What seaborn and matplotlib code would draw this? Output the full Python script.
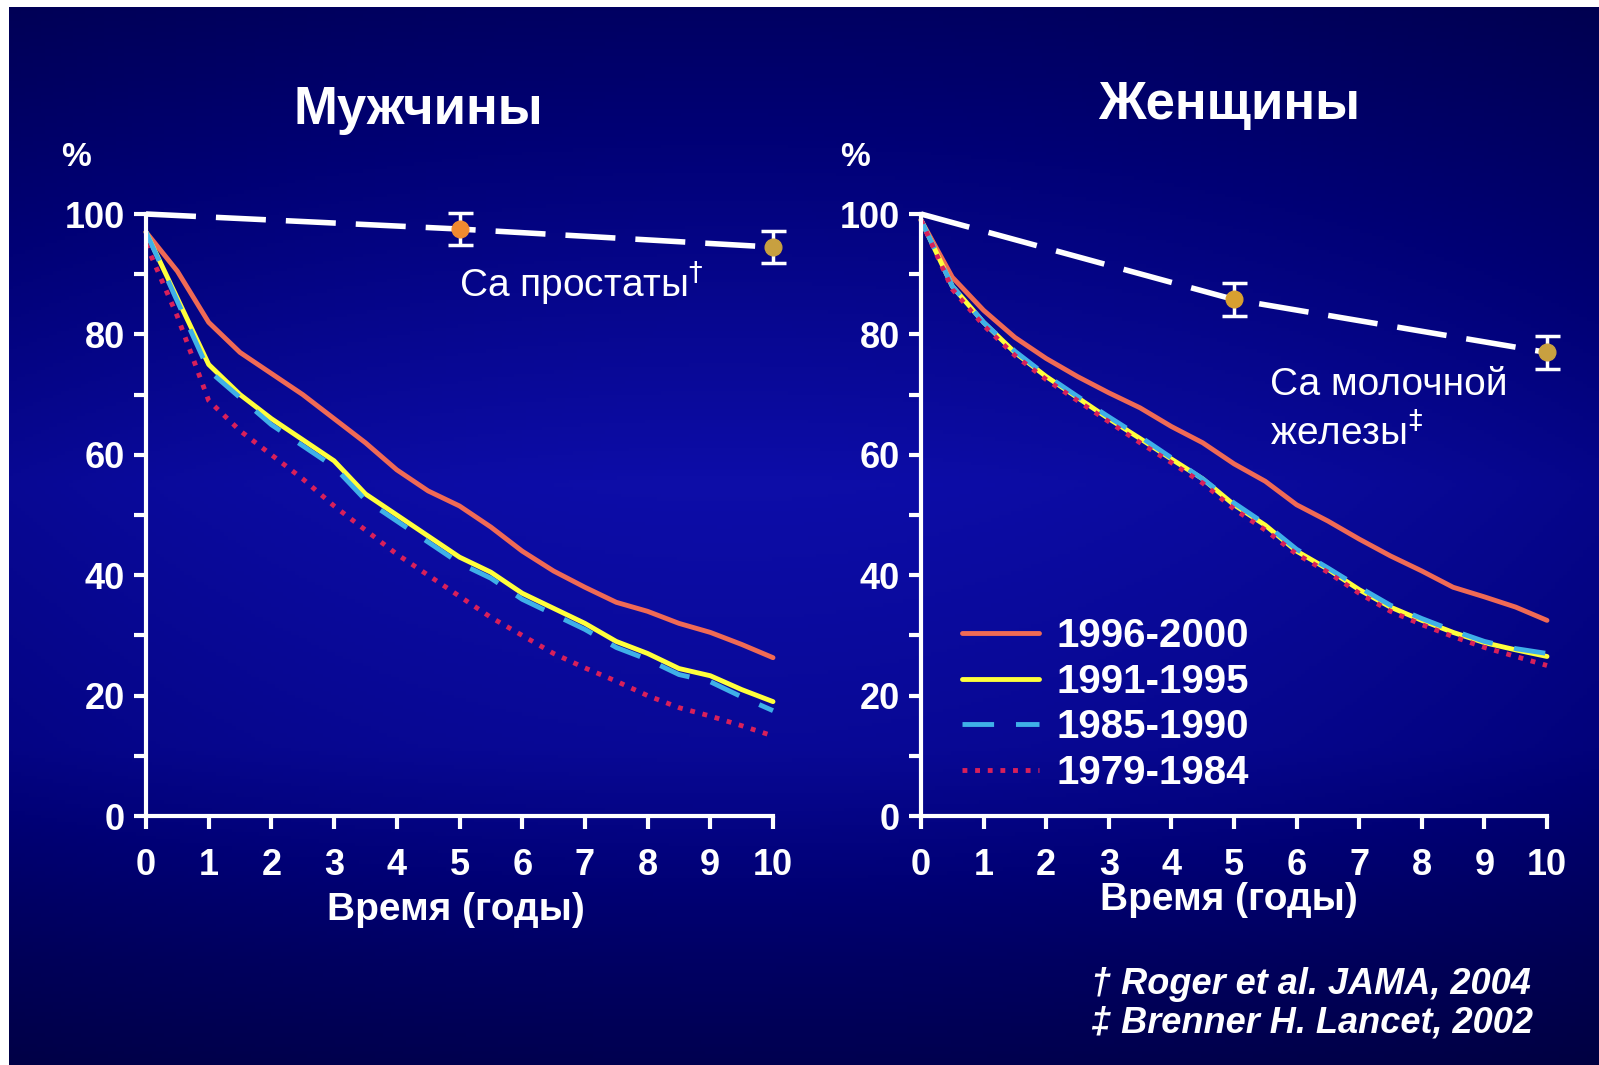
import numpy as np
import pandas as pd
import matplotlib
matplotlib.use("Agg")
import matplotlib.pyplot as plt
from matplotlib import font_manager
import seaborn as sns

#############################################
# Data
#############################################
years = [0, 0.5, 1, 1.5, 2, 2.5, 3, 3.5, 4, 4.5, 5, 5.5, 6, 6.5, 7, 7.5, 8, 8.5, 9, 9.5, 10]
periods = ["1996-2000", "1991-1995", "1985-1990", "1979-1984"]

men_1996 = [97, 90.5, 82, 77, 73.5, 70, 66, 62, 57.5, 54, 51.5, 48, 44, 40.7, 38, 35.5, 34, 32, 30.5, 28.5, 26.3]
men_1991 = [97, 86, 75, 70, 66, 62.5, 59, 53.5, 50, 46.5, 43, 40.5, 37, 34.5, 32, 29, 27, 24.5, 23.3, 21, 19]
men_1985 = [97, 85.5, 74, 69.5, 65, 61.5, 58, 52.5, 49, 45.5, 42, 39.5, 36, 33.5, 31, 28, 26, 23.5, 22.3, 19.8, 17.5]
men_1979 = [95, 83, 69, 64, 60, 56, 51.5, 47.5, 43.5, 40, 36.5, 33, 30, 27, 24.6, 22.4, 20, 18, 16.6, 15, 13.3]

women_1996 = [99, 89.5, 84, 79.5, 76, 73, 70.3, 67.8, 64.7, 62, 58.5, 55.6, 51.7, 49, 46, 43.2, 40.7, 38, 36.4, 34.7, 32.5]
women_1991 = [99, 88, 82, 77, 73, 69.5, 66, 62.7, 59.3, 56, 51.7, 48.3, 44, 41, 37.6, 34.7, 32.5, 30.5, 28.8, 27.6, 26.5]
women_1985 = [99, 88, 82, 77.2, 73.2, 69.7, 66.3, 63, 59.5, 56, 52, 48.5, 44.3, 41.2, 38, 35, 32.8, 30.8, 29, 27.8, 27]
women_1979 = [99, 87.5, 81.5, 76.5, 72.5, 69, 65.5, 62, 58.7, 55.3, 51, 47.5, 43.5, 40.5, 37, 34, 31.8, 29.8, 28, 26.5, 25]

# reference cancer survival (dashed white line with error bars)
ref_years = [0, 5, 10]
prostate = [100, 97.5, 94.5]
breast = [100, 85.8, 77]
ref_err = [0, 2.7, 2.7]

x_ticks = list(range(0, 11))
y_major = [0, 20, 40, 60, 80, 100]
y_minor = [10, 30, 50, 70, 90]

colors = {"1996-2000": "#f06a55", "1991-1995": "#ffff3c",
          "1985-1990": "#3fb0e8", "1979-1984": "#d8205a"}
styles = {"1996-2000": "-", "1991-1995": "-",
          "1985-1990": (0, (6.5, 4.5)), "1979-1984": (0, (1, 1.6))}

#############################################
# Fonts
#############################################
sns.set_theme(style="ticks")
names = {f.name for f in font_manager.fontManager.ttflist}
narrow = "Liberation Sans Narrow" if "Liberation Sans Narrow" in names else "Liberation Sans"
plt.rcParams["font.family"] = ["Liberation Sans", "DejaVu Sans"]

W, H = 1599, 1065
fig = plt.figure(figsize=(W / 100, H / 100), dpi=100, facecolor="white")

# background gradient
bg = fig.add_axes([9 / W, 0, 1 - 9 / W, 1 - 7 / H])
yy = np.linspace(0, 1, 300)[:, None]
xx = np.linspace(0, 1, 400)[None, :]
blue = np.interp(yy, [0, 0.15, 0.45, 0.7, 0.9, 1.0], [98, 122, 168, 150, 100, 80]) / 255
blue = blue * (1 - 0.18 * ((xx - 0.45) / 0.55) ** 2)
rg = np.clip(blue - 0.45, 0, None) * 0.25
img = np.dstack([rg, rg, blue])
bg.imshow(img, aspect="auto", extent=[0, 1, 0, 1], origin="upper")
bg.set_axis_off()


def px_to_fig(x, y):
    return x / W, 1 - y / H


def panel(rect, curves, ref, ref_colors):
    ax = fig.add_axes(rect)
    ax.set_facecolor("none")
    df = pd.DataFrame({"t": years * 4,
                       "v": sum(curves, []),
                       "p": np.repeat(periods, len(years))})
    for p in periods:
        d = df[df.p == p]
        sns.lineplot(data=d, x="t", y="v", ax=ax, color=colors[p], lw=3.5,
                     linestyle=styles[p], label=p, clip_on=False, legend=False)
    # reference line
    sns.lineplot(x=ref_years, y=ref, ax=ax, color="white", lw=4,
                 linestyle=(0, (9, 3.6)), clip_on=False, legend=False, zorder=5)
    for xi, yi, e, c in zip(ref_years[1:], ref[1:], ref_err[1:], ref_colors):
        ax.errorbar(xi, yi, yerr=e, fmt="o", color=c, ms=12, mec=c,
                    ecolor="white", elinewidth=2.5, capsize=9, capthick=2.5,
                    clip_on=False, zorder=6)
    ax.set_xlim(0, 10)
    ax.set_ylim(0, 100)
    sns.despine(ax=ax)
    for s in ["left", "bottom"]:
        ax.spines[s].set_color("white")
        ax.spines[s].set_linewidth(3)
    ax.set_xticks(x_ticks)
    ax.set_yticks(y_major)
    ax.set_yticks(y_minor, minor=True)
    ax.tick_params(axis="both", which="both", colors="white", width=3, length=9,
                   direction="out")
    ax.tick_params(axis="x", pad=14, labelsize=26)
    ax.tick_params(axis="y", pad=6, labelsize=26)
    for lab in ax.get_xticklabels() + ax.get_yticklabels():
        lab.set_fontweight("bold")
        lab.set_fontfamily(narrow)
    ax.set_xlabel("")
    ax.set_ylabel("")
    return ax


ax1 = panel([146 / W, 1 - 816 / H, 627 / W, 602 / H],
            [men_1996, men_1991, men_1985, men_1979], prostate,
            ["#f08a30", "#c8a040"])
ax2 = panel([921 / W, 1 - 816 / H, 626 / W, 602 / H],
            [women_1996, women_1991, women_1985, women_1979], breast,
            ["#d8a030", "#c8a040"])

# titles
fig.text(*px_to_fig(418, 110), "Мужчины", color="white", fontsize=38,
         fontweight="bold", ha="center", va="center")
fig.text(*px_to_fig(1229, 105), "Женщины", color="white", fontsize=38,
         fontweight="bold", ha="center", va="center")
for x in (76, 855):
    fig.text(*px_to_fig(x, 158), "%", color="white", fontsize=24,
             fontweight="bold", ha="center", va="center", family=narrow)

# axis labels
fig.text(*px_to_fig(456, 910), "Время (годы)", color="white", fontsize=28,
         fontweight="bold", ha="center", va="center", family=narrow)
fig.text(*px_to_fig(1229, 900), "Время (годы)", color="white", fontsize=28,
         fontweight="bold", ha="center", va="center", family=narrow)

# annotations
fig.text(*px_to_fig(459, 283), "Са простаты$^{\\dagger}$", color="white",
         fontsize=28, ha="left", va="center", family=narrow)
fig.text(*px_to_fig(1270, 385), "Са молочной", color="white",
         fontsize=28, ha="left", va="center", family=narrow)
fig.text(*px_to_fig(1270, 433), "железы$^{\\ddagger}$", color="white",
         fontsize=28, ha="left", va="center", family=narrow)

# legend
handles, labels = ax2.get_legend_handles_labels()
leg = ax2.legend(handles, labels, loc="upper left",
                 bbox_to_anchor=px_to_fig(962, 617), bbox_transform=fig.transFigure,
                 frameon=False, fontsize=29, handlelength=1.9, handletextpad=0.45,
                 labelspacing=0.19, borderpad=0, borderaxespad=0)
for t in leg.get_texts():
    t.set_color("white")
    t.set_fontweight("bold")
    t.set_fontfamily(narrow)

# references
fig.text(*px_to_fig(1091, 984), "† Roger et al. JAMA, 2004", color="white",
         fontsize=26, fontweight="bold", style="italic", ha="left", va="center",
         family=narrow)
fig.text(*px_to_fig(1091, 1023), "‡ Brenner H. Lancet, 2002", color="white",
         fontsize=26, fontweight="bold", style="italic", ha="left", va="center",
         family=narrow)

fig.savefig("out.png", dpi=100, facecolor="white")
